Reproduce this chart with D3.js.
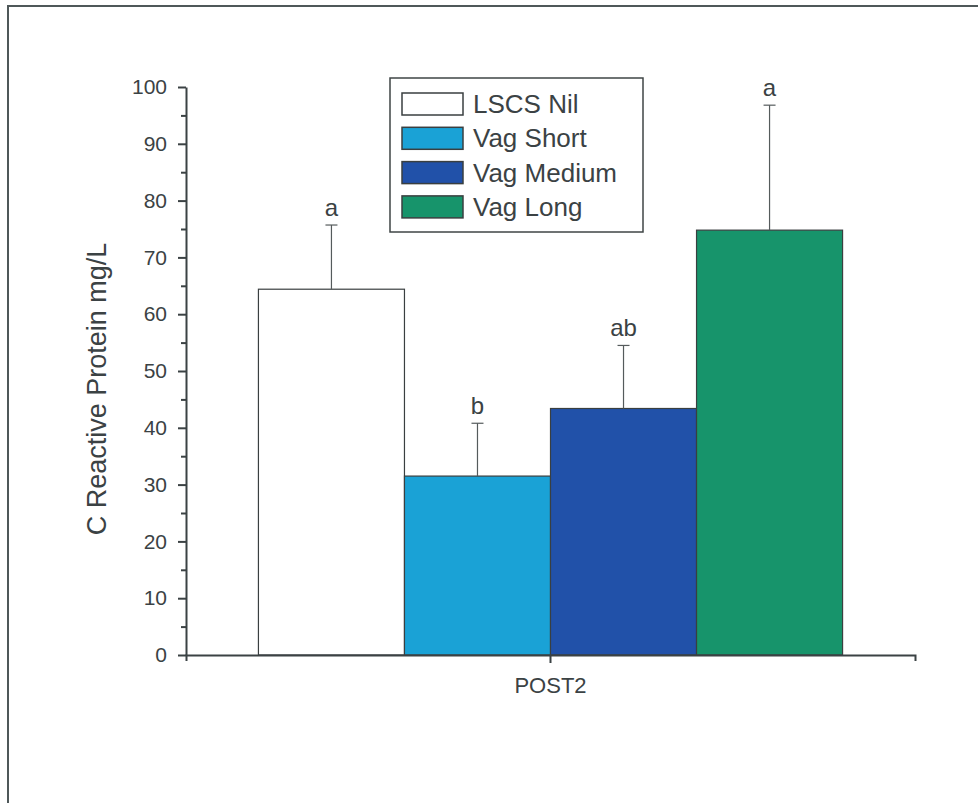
<!DOCTYPE html>
<html>
<head>
<meta charset="utf-8">
<script src="https://cdn.jsdelivr.net/npm/d3@7/dist/d3.min.js"></script>
<style>
  html, body { margin: 0; padding: 0; background: #fff; }
  svg { display: block; font-family: "Liberation Sans", Arial, sans-serif; }
</style>
</head>
<body>
<svg id="chart" width="978" height="803"></svg>
<script>
// Data: C reactive protein at POST2, by treatment group
const categories = ["POST2"];
const groups = ["LSCS Nil", "Vag Short", "Vag Medium", "Vag Long"];
const means = [64.4, 31.5, 43.4, 74.8];
const upperErrors = [75.7, 40.8, 54.5, 96.8];
const letters = ["a", "b", "ab", "a"];
const colors = ["#ffffff", "#1aa2d6", "#2151a9", "#17946b"];
const yTicks = [0, 10, 20, 30, 40, 50, 60, 70, 80, 90, 100];
const yMinorTicks = [5, 15, 25, 35, 45, 55, 65, 75, 85, 95];
const yTitle = "C Reactive Protein mg/L";

const ink = "#3b4244";
const svg = d3.select("#chart");

// Outer frame
svg.append("rect")
  .attr("x", 8).attr("y", 6)
  .attr("width", 990).attr("height", 820)
  .attr("fill", "none").attr("stroke", "#4f5859").attr("stroke-width", 2);

const plot = { left: 186, right: 915, top: 87, bottom: 655 };

const y = d3.scaleLinear().domain([0, 100]).range([plot.bottom, plot.top]);
const x = d3.scaleBand().domain(categories)
  .range([plot.left, plot.right]).paddingInner(0).paddingOuter(0.124);
const xSub = d3.scaleBand().domain(groups).range([0, x.bandwidth()]).padding(0);

// Bars
const g = svg.append("g");
categories.forEach(cat => {
  groups.forEach((grp, i) => {
    const bx = x(cat) + xSub(grp);
    g.append("rect")
      .attr("x", bx).attr("y", y(means[i]))
      .attr("width", xSub.bandwidth())
      .attr("height", y(0) - y(means[i]))
      .attr("fill", colors[i])
      .attr("stroke", "#3a3f40").attr("stroke-width", 1.2);
  });
});

// Error bars (upper only) with letter labels
categories.forEach(cat => {
  groups.forEach((grp, i) => {
    const cx = x(cat) + xSub(grp) + xSub.bandwidth() / 2;
    g.append("line")
      .attr("x1", cx).attr("x2", cx)
      .attr("y1", y(means[i])).attr("y2", y(upperErrors[i]))
      .attr("stroke", "#555b5c").attr("stroke-width", 1.2);
    g.append("line")
      .attr("x1", cx - 6).attr("x2", cx + 6)
      .attr("y1", y(upperErrors[i])).attr("y2", y(upperErrors[i]))
      .attr("stroke", "#555b5c").attr("stroke-width", 1.2);
    g.append("text")
      .attr("x", cx).attr("y", y(upperErrors[i]) - 9)
      .attr("text-anchor", "middle")
      .attr("font-size", 24).attr("fill", ink)
      .text(letters[i]);
  });
});

// Y axis: major ticks with labels, minor ticks without
const yAxis = svg.append("g")
  .attr("transform", `translate(${plot.left},0)`)
  .call(d3.axisLeft(y).tickValues(yTicks).tickSize(8).tickSizeOuter(0).tickPadding(11));
yAxis.attr("font-size", 21).attr("font-family", "Liberation Sans, Arial, sans-serif");
yAxis.selectAll("text").attr("fill", ink);
yAxis.selectAll("line, path").attr("stroke", ink).attr("stroke-width", 2);

const yMinor = svg.append("g")
  .attr("transform", `translate(${plot.left},0)`)
  .call(d3.axisLeft(y).tickValues(yMinorTicks).tickSize(5).tickFormat(""));
yMinor.select(".domain").remove();
yMinor.selectAll("line").attr("stroke", ink).attr("stroke-width", 2);

// X axis
const xAxis = svg.append("g")
  .attr("transform", `translate(0,${plot.bottom})`)
  .call(d3.axisBottom(x).tickSize(8).tickSizeOuter(6).tickPadding(14));
xAxis.attr("font-size", 22).attr("font-family", "Liberation Sans, Arial, sans-serif");
xAxis.selectAll("text").attr("fill", ink);
xAxis.selectAll("line, path").attr("stroke", ink).attr("stroke-width", 2);

// Y axis title
svg.append("text")
  .attr("transform", `translate(106,${(plot.top + plot.bottom) / 2 + 18}) rotate(-90)`)
  .attr("text-anchor", "middle")
  .attr("font-size", 27).attr("fill", ink)
  .text(yTitle);

// Legend
const legend = svg.append("g");
legend.append("rect")
  .attr("x", 390).attr("y", 78).attr("width", 253).attr("height", 154)
  .attr("fill", "#fff").attr("stroke", "#3f4546").attr("stroke-width", 1.5);
groups.forEach((grp, i) => {
  const ry = 93 + i * 34.3;
  legend.append("rect")
    .attr("x", 402).attr("y", ry).attr("width", 61).attr("height", 22)
    .attr("fill", colors[i]).attr("stroke", "#3a3f40").attr("stroke-width", 1.5);
  legend.append("text")
    .attr("x", 473).attr("y", ry + 20)
    .attr("font-size", 26).attr("fill", ink)
    .text(grp);
});
</script>
</body>
</html>
